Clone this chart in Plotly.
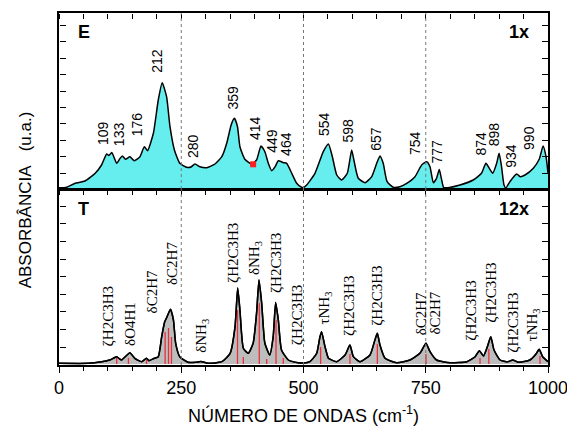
import plotly.graph_objects as go

# ---------------- data ----------------
E_x = [8, 16, 33, 53, 74, 87, 97.5, 102, 108, 118, 124, 129.5, 136, 145, 154, 165.6, 174.5, 181, 193, 203, 211,
       220, 227, 236, 247, 261, 270, 278, 288, 302, 319, 333, 343, 352, 358.6, 365, 370, 380, 394, 404, 413,
       421, 428, 435, 442, 448.5, 459, 465.6, 476, 486, 496, 500,
       506.5, 523.5, 540.5, 551, 559, 568, 578, 589.6, 598.5, 603, 612, 626, 639.5, 649.7, 656.4, 663, 671,
       683.6, 697, 711, 728, 741.7, 752, 758.7, 765.5, 772, 777.7, 782.6, 787, 796, 820, 847, 864, 873, 880,
       887, 895, 900, 905, 910, 914, 922, 936, 943, 953, 970, 982, 990, 996, 1000]
E_y = [0, 0.8, 4.7, 7, 14.7, 23, 34, 32.5, 35.5, 24.7, 29, 32, 28.7, 31.3, 27.3, 31.3, 41.3, 37.3, 54.7, 88, 105.3,
       91.3, 61.3, 38, 24.7, 20.7, 21, 24, 21.3, 20.3, 24, 31.3, 44.7, 63, 69.7, 61.3, 41.3, 28.7, 24, 28, 42,
       36.3, 24.7, 17.3, 21.3, 27.3, 25.3, 24.7, 14.7, 4.7, 0.7, 0.5,
       3, 14.7, 36.3, 44, 31.3, 13, 8, 14.7, 38, 28, 9.7, 5.3, 11.3, 24.7, 32, 24.7, 6.3,
       0.7, 1.3, 4.7, 11.3, 23, 26.3, 21.3, 5.3, 9.7, 18.5, 8, 0, 0.3, 3, 8, 14.7, 24.7, 19.7,
       14.7, 24.7, 34.7, 21.3, 3, 0, 6.3, 14, 11.3, 13, 19.7, 28.7, 42, 31.3, 15]

E_labels = ["109", "133", "176", "212", "280", "359", "414", "449", "464",
            "554", "598", "657", "754", "777", "874", "898", "934", "990"]
E_label_x = [90, 123, 160, 200, 274, 355, 401, 435, 464, 542, 590, 648, 728, 774, 862, 890, 924, 961]
E_label_y = [41, 40, 50, 113, 28, 76, 46, 33, 30, 50, 43, 35, 31, 23, 30, 40, 18, 36]

E_marker_x = [397]
E_marker_y = [23.7]

T_x = [0, 60, 87, 104, 112, 118, 124, 128, 137, 145, 155, 169, 179, 184, 195, 203, 210, 216, 221, 228, 234,
       238.6, 247, 264, 280, 290, 305, 333, 350, 360, 365.4, 370, 377, 387, 397, 404, 409, 414.5, 421, 431,
       438, 443, 448.5, 455, 469, 489, 500, 513, 527, 533.7, 537, 544, 551, 557.6, 568, 585, 595, 602,
       615.5, 636, 646, 651, 656.4, 666.7, 690.6, 717.8, 738, 750.5, 758.7, 772, 800, 834, 851, 859.6, 868,
       876, 883, 889.6, 902, 918, 928, 940, 963, 975.5, 982, 989, 1000]
T_y = [0.7, 0.7, 2.3, 4, 6, 7.3, 5, 4, 8, 11.3, 5.7, 2.3, 5.7, 3.3, 5.7, 7.3, 27.3, 42, 47.3, 54.7, 44,
       20.7, 7.3, 1.7, 1.8, 2.5, 0.7, 2.3, 10.7, 37.3, 76, 54, 15.7, 10.7, 20.7, 50.7, 84, 60.7, 20.7, 9,
       27.3, 61.5, 44, 14, 4, 1.3, 1, 2.3, 10.7, 27.3, 32.3, 17.3, 5.7, 4, 2.3, 9, 19, 7.3,
       2.3, 9, 24, 30.7, 19, 5.7, 1.3, 4, 10.7, 20.7, 12.3, 4, 1.3, 2.3, 7.3, 13.3, 8,
       17.3, 27.3, 14, 4, 2.3, 4, 1.7, 4, 10, 14.7, 7.3, 2.3]

stick_x = [118, 142, 179, 217, 224, 230, 365, 377, 409.6, 424.7, 443.8, 458.6, 535, 595, 651, 750.5, 861, 879, 983.6]
stick_h = [6, 6, 4, 32, 36, 27, 54, 7, 61, 5, 44, 6, 17, 10, 20, 10, 6, 15, 8]

T_labels = ["ζH2C3H3", "δO4H1", "δC2H7", "δC2H7", "δNH<sub>3</sub>", "ζH2C3H3", "δNH<sub>3</sub>", "ζH2C3H3",
            "ζH2C3H3", "τNH<sub>3</sub>", "ζH2C3H3", "ζH2C3H3", "δC2H7", "δC2H7", "ζH2C3H3", "ζH2C3H3",
            "ζH2C3H3", "τNH<sub>3</sub>"]
T_label_x = [101, 145, 190, 230, 292, 356, 401, 444, 487, 542, 593, 650, 740, 767, 842, 883, 928, 969]
T_label_y = [16, 16, 49, 77, 9, 79, 87, 69, 17, 37, 26, 36, 27, 27, 21, 39, 9, 21]

x_ticks = [0, 250, 500, 750, 1000]
divider_x = [250, 500, 750]

# ---------------- figure ----------------
fig = go.Figure()

fig.add_trace(go.Scatter(x=E_x, y=E_y, xaxis="x2", yaxis="y2", mode="lines",
                         line=dict(color="black", width=1.5, shape="spline", smoothing=0.5),
                         fill="tozeroy", fillcolor="#66eeee", hoverinfo="skip"))
fig.add_trace(go.Scatter(x=E_marker_x, y=E_marker_y, xaxis="x2", yaxis="y2", mode="markers",
                         marker=dict(symbol="square", size=6, color="#ff2020")))

fig.add_trace(go.Scatter(x=T_x, y=T_y, xaxis="x", yaxis="y", mode="lines",
                         line=dict(color="black", width=1.5, shape="spline", smoothing=0.5),
                         fill="tozeroy", fillcolor="#bdbdbd", hoverinfo="skip"))
sx, sy = [], []
for xv, hv in zip(stick_x, stick_h):
    sx += [xv, xv, None]
    sy += [0, hv, None]
fig.add_trace(go.Scatter(x=sx, y=sy, xaxis="x", yaxis="y", mode="lines",
                         line=dict(color="#e8303a", width=1.3), hoverinfo="skip"))
fig.add_trace(go.Scatter(x=T_x, y=T_y, xaxis="x", yaxis="y", mode="lines",
                         line=dict(color="black", width=1.5, shape="spline", smoothing=0.5),
                         hoverinfo="skip"))

# invisible helpers so the tick-only overlay axes are drawn
for xa, ya in [("x", "y3"), ("x", "y4"), ("x2", "y5"), ("x2", "y6"), ("x3", "y2"), ("x4", "y")]:
    fig.add_trace(go.Scatter(x=[None], y=[None], xaxis=xa, yaxis=ya, mode="markers",
                             hoverinfo="skip", showlegend=False))

ann = []
for t, xv, yv in zip(E_labels, E_label_x, E_label_y):
    ann.append(dict(x=xv, y=yv, xref="x2", yref="y2", text=t, textangle=-90, showarrow=False,
                    xanchor="center", yanchor="bottom",
                    font=dict(family="Liberation Sans, Arial", size=14, color="black")))
for t, xv, yv in zip(T_labels, T_label_x, T_label_y):
    ann.append(dict(x=xv, y=yv, xref="x", yref="y", text=t, textangle=-90, showarrow=False,
                    xanchor="center", yanchor="bottom",
                    font=dict(family="Liberation Serif, Times New Roman", size=15, color="black")))

bold = dict(family="Liberation Sans, Arial", size=18, color="black")
ann += [
    dict(x=0.035, y=0.98, xref="paper", yref="paper", text="<b>E</b>", showarrow=False,
         xanchor="left", yanchor="top", font=bold),
    dict(x=0.965, y=0.98, xref="paper", yref="paper", text="<b>1x</b>", showarrow=False,
         xanchor="right", yanchor="top", font=bold),
    dict(x=0.035, y=0.478, xref="paper", yref="paper", text="<b>T</b>", showarrow=False,
         xanchor="left", yanchor="top", font=bold),
    dict(x=0.965, y=0.478, xref="paper", yref="paper", text="<b>12x</b>", showarrow=False,
         xanchor="right", yanchor="top", font=bold),
    dict(x=-0.068, y=0.47, xref="paper", yref="paper", text="ABSORBÂNCIA\u00a0\u00a0\u00a0(u.a.)",
         textangle=-90, showarrow=False, xanchor="center", yanchor="middle",
         font=dict(family="Liberation Sans, Arial", size=17, color="black")),
]

shapes = []
for dx in divider_x:
    for yr in ["y domain", "y2 domain"]:
        shapes.append(dict(type="line", x0=dx, x1=dx, y0=0, y1=1, xref="x" if yr == "y domain" else "x2",
                           yref=yr, line=dict(color="#777777", width=1, dash="dot")))

# tick positions (styling only)
x_minor = [50 * i for i in range(21)]
y_bot_ticks = [17 + 17.6 * i for i in range(9)]
y_top_ticks = [15 + 16.4 * i for i in range(10)]

axfont = dict(family="Liberation Sans, Arial", size=18, color="black")
frame = dict(showline=True, linecolor="black", linewidth=1.5, mirror=True, showgrid=False,
             zeroline=False, automargin=False, showticklabels=False, ticks="")
tick_only = dict(tickmode="array", ticks="outside", ticklen=6, tickwidth=1.4, tickcolor="black",
                 showticklabels=False, showline=False, showgrid=False, zeroline=False,
                 automargin=False, anchor="free")

fig.update_layout(
    width=575, height=428,
    margin=dict(l=51, r=35, t=5, b=71, autoexpand=False),  # page body has an 8px margin
    paper_bgcolor="white", plot_bgcolor="rgba(0,0,0,0)",
    showlegend=False,
    annotations=ann, shapes=shapes,
    xaxis=dict(domain=[0, 1], anchor="y", range=[0, 1000], tickmode="array", tickvals=x_ticks,
               ticks="outside", ticklen=6, tickwidth=1.2, tickcolor="black",
               minor=dict(dtick=50, tick0=0, ticks="outside", ticklen=4, tickcolor="black"),
               showline=True, linecolor="black", linewidth=1.5, mirror=True, showgrid=False,
               zeroline=False, tickfont=axfont, automargin=False,
               title=dict(text="NÚMERO DE ONDAS (cm<sup>-1</sup>)", font=axfont, standoff=12)),
    xaxis2=dict(domain=[0, 1], anchor="y2", range=[0, 1000], **frame),
    yaxis=dict(domain=[0, 0.5], anchor="x", range=[-1, 175], **frame),
    yaxis2=dict(domain=[0.5, 1], anchor="x2", range=[-1, 175], **frame),
    # tick-only axes that point into the panels
    yaxis3=dict(overlaying="y", side="right", position=0, range=[-1, 175], tickvals=y_bot_ticks, **tick_only),
    yaxis4=dict(overlaying="y", side="left", position=1, range=[-1, 175], tickvals=y_bot_ticks, **tick_only),
    yaxis5=dict(overlaying="y2", side="right", position=0, range=[-1, 175], tickvals=y_top_ticks, **tick_only),
    yaxis6=dict(overlaying="y2", side="left", position=1, range=[-1, 175], tickvals=y_top_ticks, **tick_only),
    xaxis3=dict(overlaying="x2", side="bottom", position=1, range=[0, 1000], tickvals=x_minor,
                **{**tick_only, "ticklen": 5}),
    xaxis4=dict(overlaying="x", side="bottom", position=0.5, range=[0, 1000], tickvals=x_minor,
                **{**tick_only, "ticklen": 5}),
)

fig.write_html("out.html")
